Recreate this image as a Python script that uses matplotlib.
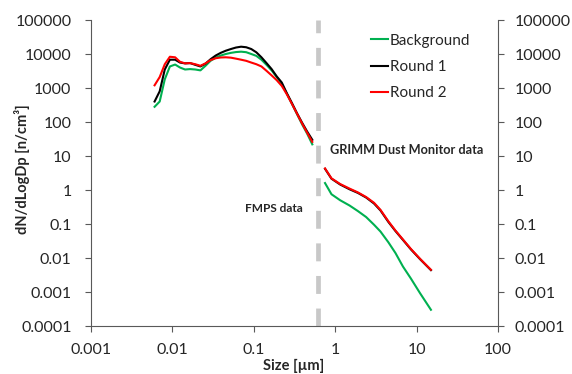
import matplotlib
matplotlib.use("Agg")
import matplotlib.pyplot as plt
from matplotlib.ticker import FixedLocator, NullLocator

plt.rcParams['font.family'] = ['Lato', 'DejaVu Sans']

# FMPS channel sizes (um)
fmps_size = [0.00604, 0.00698, 0.00806, 0.00931, 0.0108, 0.0124, 0.0143, 0.0165,
             0.0191, 0.0221, 0.0255, 0.0294, 0.0340, 0.0392, 0.0453, 0.0523,
             0.0604, 0.0698, 0.0806, 0.0931, 0.1075, 0.1241, 0.1433, 0.1655,
             0.1911, 0.2207, 0.2548, 0.2943, 0.3398, 0.3924, 0.4532, 0.5233]
fmps_background = [280, 400, 1800, 4300, 4900, 4000, 3500, 3600,
                   3500, 3300, 4500, 6300, 7800, 9000, 10000, 10800,
                   11400, 11700, 11300, 10000, 8800, 6800, 4800, 3300,
                   2100, 1300, 680, 340, 170, 85, 45, 22]
fmps_round1 = [400, 800, 3500, 6800, 6800, 5600, 5300, 5400,
               4800, 4300, 5200, 7000, 9000, 10800, 12500, 14000,
               15500, 16400, 15800, 14000, 11200, 8000, 5400, 3600,
               2200, 1450, 700, 360, 180, 95, 52, 30]
fmps_round2 = [1200, 2100, 5000, 8300, 8000, 5900, 5300, 5400,
               5000, 4500, 5300, 6600, 7500, 7900, 8000, 7800,
               7300, 6800, 6300, 5600, 5000, 4300, 3200, 2350,
               1700, 1150, 650, 340, 175, 90, 48, 26]

# GRIMM channel sizes (um)
grimm_size = [0.75, 0.9, 1.15, 1.5, 1.9, 2.4, 3.0, 3.6, 4.5, 5.5, 6.8, 8.5, 11, 15]
grimm_background = [1.6, 0.75, 0.5, 0.35, 0.24, 0.16, 0.095, 0.06, 0.029, 0.014,
                    0.0056, 0.0025, 0.00093, 0.0003]
grimm_round1 = [4.2, 2.15, 1.45, 1.05, 0.82, 0.6, 0.4, 0.25, 0.115, 0.062,
                0.034, 0.018, 0.0093, 0.0044]
grimm_round2 = [4.3, 2.2, 1.5, 1.1, 0.85, 0.62, 0.42, 0.26, 0.12, 0.064,
                0.035, 0.0185, 0.0095, 0.0045]

series_names = ["Background", "Round 1", "Round 2"]
series_colors = ["#00B050", "#000000", "#FF0000"]
divider_size = 0.62

y_ticks = [1e-4, 1e-3, 1e-2, 1e-1, 1, 10, 100, 1000, 10000, 100000]
y_labels = ["0.0001", "0.001", "0.01", "0.1", "1", "10", "100", "1000", "10000", "100000"]
x_ticks = [0.001, 0.01, 0.1, 1, 10, 100]
x_labels = ["0.001", "0.01", "0.1", "1", "10", "100"]

fig = plt.figure(figsize=(5.72, 3.74), dpi=100)
ax = fig.add_axes([91/572, 1-326/374, (498-91)/572, (326-20)/374])
ax.set_xscale('log')
ax.set_yscale('log')
ax.set_xlim(0.001, 100)
ax.set_ylim(1e-4, 1e5)

ax.plot([divider_size, divider_size], [1e-4, 1e5], color="#C8C8C8", lw=3.4,
        dashes=(3.8, 3.1), solid_capstyle='butt', dash_capstyle='butt', zorder=1)

fmps = [fmps_background, fmps_round1, fmps_round2]
grimm = [grimm_background, grimm_round1, grimm_round2]
for name, col, fv, gv in zip(series_names, series_colors, fmps, grimm):
    ax.plot(fmps_size, fv, color=col, lw=1.5, label=name, zorder=3)
    ax.plot(grimm_size, gv, color=col, lw=1.5, zorder=3)

axis_col = "#595959"
text_col = "#262626"
for s in ['left', 'bottom']:
    ax.spines[s].set_color(axis_col)
ax.spines['top'].set_visible(False)
ax.spines['right'].set_visible(False)

ax.xaxis.set_major_locator(FixedLocator(x_ticks))
ax.set_xticklabels(x_labels)
ax.xaxis.set_minor_locator(NullLocator())
ax.yaxis.set_major_locator(FixedLocator(y_ticks))
ax.set_yticklabels(y_labels)
ax.yaxis.set_minor_locator(NullLocator())
ax.tick_params(axis='x', direction='out', length=4.5, width=0.8, color=axis_col,
               labelsize=11.5, labelcolor=text_col, pad=8)
ax.tick_params(axis='y', direction='out', length=4, width=0.8, color=axis_col,
               labelsize=11.5, labelcolor=text_col, pad=10)

# right axis
ax2 = ax.twinx()
ax2.set_yscale('log')
ax2.set_ylim(1e-4, 1e5)
ax2.yaxis.set_major_locator(FixedLocator(y_ticks))
ax2.set_yticklabels(y_labels)
ax2.yaxis.set_minor_locator(NullLocator())
for s in ['left', 'top', 'bottom']:
    ax2.spines[s].set_visible(False)
ax2.spines['right'].set_color(axis_col)
ax2.tick_params(axis='y', direction='out', length=4, width=0.8, color=axis_col,
                labelsize=11.5, labelcolor=text_col, pad=8)

leg = ax.legend(loc='upper left', bbox_to_anchor=((357 - 91) / (498 - 91), 1.0),
                frameon=False, fontsize=11, handlelength=1.1, handletextpad=0.15,
                labelspacing=0.8, borderaxespad=0.5, labelcolor=text_col)

fig.text(330/572, 1-150/374, "GRIMM Dust Monitor data", fontsize=9.2,
         fontweight='bold', color=text_col, va='center', ha='left')
fig.text(245/572, 1-208/374, "FMPS data", fontsize=8.5,
         fontweight='bold', color=text_col, va='center', ha='left')
fig.text(22/572, 1-169/374, "dN/dLogDp [n/cm³]", rotation=90, fontsize=10.5,
         fontweight='bold', color=text_col, va='center', ha='center')
fig.text(294/572, 1-366/374, "Size [µm]", fontsize=10.5,
         fontweight='bold', color=text_col, va='center', ha='center')

fig.savefig("out.png", dpi=100)
